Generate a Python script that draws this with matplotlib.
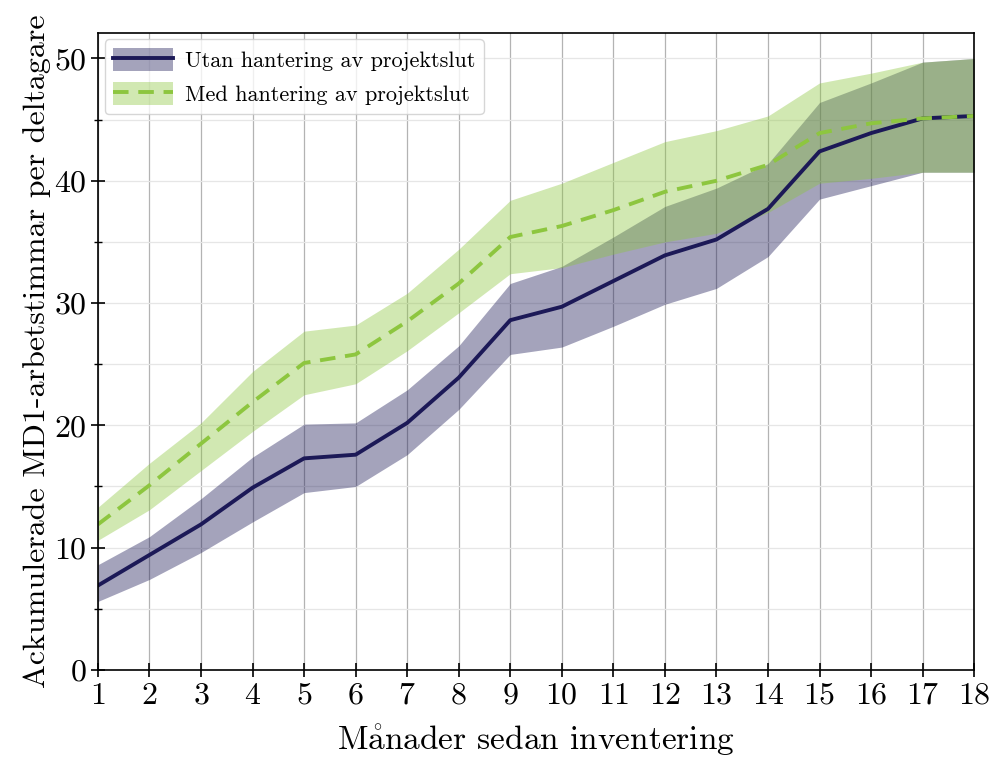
import numpy as np
import matplotlib
matplotlib.use("Agg")
import matplotlib.pyplot as plt
from matplotlib.ticker import MultipleLocator

plt.rcParams['font.family'] = ['cmr10', 'DejaVu Serif']
plt.rcParams['mathtext.fontset'] = 'cm'
plt.rcParams['axes.formatter.use_mathtext'] = True

# data
months = list(range(1, 19))
utan_mean = [6.9, 9.4, 11.9, 14.9, 17.3, 17.6, 20.2, 23.9, 28.6, 29.7, 31.8, 33.9, 35.2, 37.7, 42.4, 43.9, 45.1, 45.3]
utan_low = [5.6, 7.4, 9.6, 12.1, 14.5, 15.0, 17.6, 21.3, 25.8, 26.4, 28.1, 29.9, 31.2, 33.8, 38.5, 39.6, 40.7, 40.7]
utan_high = [8.6, 10.9, 14.0, 17.4, 20.1, 20.2, 22.9, 26.5, 31.6, 33.0, 35.4, 37.9, 39.4, 41.4, 46.4, 48.0, 49.7, 50.0]
med_mean = [11.9, 15.1, 18.5, 21.9, 25.1, 25.8, 28.5, 31.6, 35.4, 36.3, 37.6, 39.1, 40.0, 41.3, 43.9, 44.7, 45.1, 45.3]
med_low = [10.6, 13.1, 16.3, 19.5, 22.5, 23.4, 26.1, 29.2, 32.4, 32.9, 34.0, 35.0, 35.7, 37.4, 39.8, 40.2, 40.7, 40.7]
med_high = [13.3, 16.9, 20.2, 24.4, 27.7, 28.2, 30.8, 34.4, 38.4, 39.8, 41.5, 43.2, 44.1, 45.3, 48.0, 48.8, 49.7, 50.0]

labels = ['Utan hantering av projektslut', 'Med hantering av projektslut']
navy = '#1c1957'
green = '#8dc63f'

fig = plt.figure(figsize=(9.89, 7.63), dpi=100)
ax = fig.add_axes([0.099, 0.122, 0.886, 0.835])

f1 = ax.fill_between(months, utan_low, utan_high, color=navy, alpha=0.4, lw=0)
l1, = ax.plot(months, utan_mean, color=navy, lw=2.8)
f2 = ax.fill_between(months, med_low, med_high, color=green, alpha=0.4, lw=0)
l2, = ax.plot(months, med_mean, color=green, lw=2.8, ls=(0, (4, 2.5)))

ax.set_xlim(1, 18)
ax.set_ylim(0, 52.1)
ax.set_xticks(months)
ax.yaxis.set_major_locator(MultipleLocator(10))
ax.yaxis.set_minor_locator(MultipleLocator(5))
ax.tick_params(axis='both', which='major', labelsize=23, direction='inout', length=10, width=1.2)
ax.tick_params(axis='x', which='major', pad=4)
ax.tick_params(axis='y', which='major', pad=3)
ax.tick_params(axis='y', which='minor', direction='inout', length=6, width=1)

ax.grid(axis='x', which='major', color='#a0a0a0', lw=0.9, alpha=0.8)
ax.grid(axis='y', which='both', color='#e6e6e6', lw=0.9)
ax.set_axisbelow(True)
for s in ax.spines.values():
    s.set_linewidth(1.2)

ax.set_xlabel(r'M$\mathrm{\mathring{a}}$nader sedan inventering', fontsize=24, labelpad=9)
ax.set_ylabel('Ackumulerade MD1-arbetstimmar per deltagare', fontsize=23, labelpad=2)

leg = ax.legend([(f1, l1), (f2, l2)], labels, loc='upper left', fontsize=16,
                handlelength=2.7, handleheight=1.2, handletextpad=0.5,
                borderaxespad=0.3, fancybox=True, framealpha=0.8,
                edgecolor='#cccccc')

fig.savefig('out.png', dpi=100)
